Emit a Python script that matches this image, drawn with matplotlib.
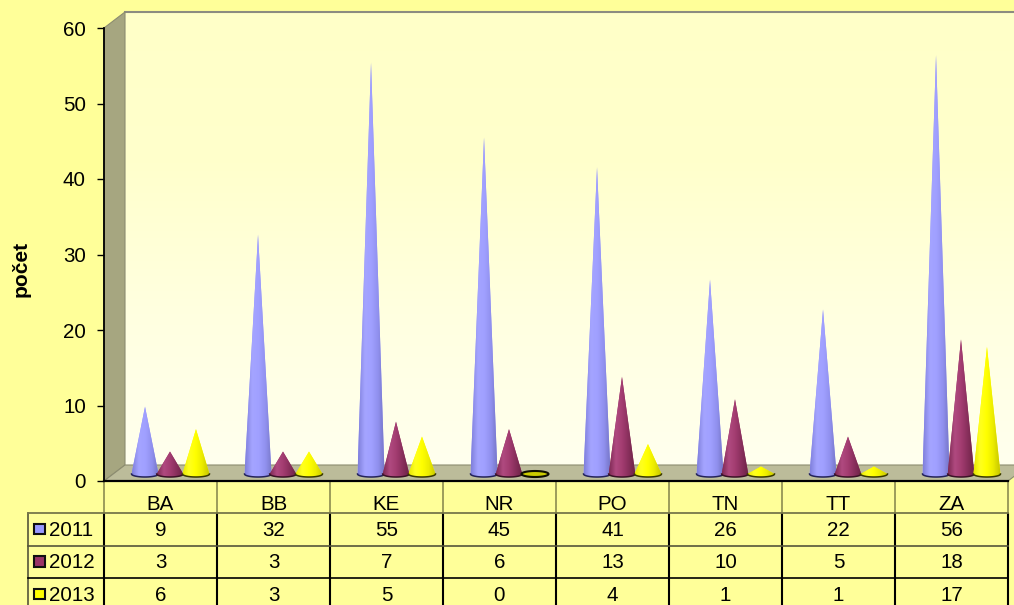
import numpy as np
import matplotlib
matplotlib.use("Agg")
import matplotlib.pyplot as plt
from matplotlib.colors import LinearSegmentedColormap
from matplotlib.patches import Polygon

plt.rcParams["font.family"] = ["Liberation Sans", "DejaVu Sans"]

categories = ["BA", "BB", "KE", "NR", "PO", "TN", "TT", "ZA"]
years = ["2011", "2012", "2013"]
v2011 = [9, 32, 55, 45, 41, 26, 22, 56]
v2012 = [3, 3, 7, 6, 13, 10, 5, 18]
v2013 = [6, 3, 5, 0, 4, 1, 1, 17]
series = [v2011, v2012, v2013]
yticks = [0, 10, 20, 30, 40, 50, 60]

colors = ["#9999FF", "#993366", "#FFFF00"]
grad_stops = [
    ["#8080DC", "#A4A4FF", "#A0A0FF", "#9090EE", "#7474C4"],
    ["#7E2A54", "#B04A80", "#A23C70", "#862E5A", "#6A2244"],
    ["#E4E400", "#FFFF20", "#FFFF00", "#ECEC00", "#C8C800"],
]
edge_colors = ["#23235A", "#3A1226", "#3A3A00"]

W, H = 1014, 605
# pixel layout of the plot box
left, right, bottom, top = 104, 1008, 481, 28
cat_w = (right - left) / len(categories)
unit = (bottom - top) / 60
depth_x = 21 / cat_w
depth_y = 16 / unit
# the cones stand further back, so they come out a little shorter than the axis
cone_scale = 0.99

fig = plt.figure(figsize=(W / 100, H / 100), dpi=100, facecolor="#FFFF99")

# overlay in pixels for the table under the plot
tab = fig.add_axes([0, 0, 1, 1], zorder=1)
tab.set_xlim(0, W)
tab.set_ylim(H, 0)
tab.axis("off")

ax = fig.add_axes([left / W, 1 - bottom / H, (right - left) / W, (bottom - top) / H], zorder=2)
ax.patch.set_alpha(0)
ax.set_xlim(0, len(categories))
ax.set_ylim(0, 60)

# back wall
wall_cmap = LinearSegmentedColormap.from_list("wall", ["#FFFFC8", "#FFFFCC", "#FFFFE0", "#FFFFEE"])
ax.imshow(np.linspace(0, 1, 256).reshape(-1, 1), cmap=wall_cmap, aspect="auto", origin="upper",
          extent=[depth_x, 8 + depth_x, depth_y, 60 + depth_y], zorder=1, clip_on=False)
ax.set_xlim(0, len(categories))
ax.set_ylim(0, 60)
ax.plot([depth_x, 8 + depth_x], [60 + depth_y] * 2, color="#8C8C80", lw=1.5, zorder=2, clip_on=False)

# side wall and floor
ax.add_patch(Polygon([[0, 0], [depth_x, depth_y], [depth_x, 60 + depth_y], [0, 60]], closed=True,
                     facecolor="#A6A680", edgecolor="#8C8C70", lw=0.8, zorder=2, clip_on=False))
ax.add_patch(Polygon([[0, 0], [depth_x, depth_y], [8 + depth_x, depth_y], [8, 0]], closed=True,
                     facecolor="#BCBC9A", edgecolor="#8C8C70", lw=0.8, zorder=2, clip_on=False))

# cones
offsets = [0.363, 0.584, 0.814]
half_w = [13.5 / cat_w, 13.3 / cat_w, 13.5 / cat_w]
base_y = 7 / unit
ell_h = 3 / unit
theta = np.linspace(np.pi, 2 * np.pi, 40)

for s, vals in enumerate(series):
    cmap = LinearSegmentedColormap.from_list(f"c{s}", grad_stops[s])
    for i, v in enumerate(vals):
        cx = i + offsets[s]
        hw = half_w[s]
        low_x = cx + hw * np.cos(theta)
        low_y = base_y + ell_h * np.sin(theta)
        if v == 0:
            t = np.linspace(0, 2 * np.pi, 60)
            ax.fill(cx + hw * np.cos(t), base_y + ell_h * np.sin(t), facecolor="#CCCC00",
                    edgecolor="#101000", lw=1.5, zorder=5 + s)
            continue
        tip = base_y + v * cone_scale
        pts = np.column_stack([np.r_[cx, low_x[::-1]], np.r_[tip, low_y[::-1]]])
        cone = Polygon(pts, closed=True, facecolor=colors[s], edgecolor="none", zorder=4 + s)
        ax.add_patch(cone)
        im = ax.imshow(np.linspace(0, 1, 64).reshape(1, -1), cmap=cmap, aspect="auto",
                       extent=[cx - hw, cx + hw, base_y - ell_h, tip], zorder=4 + s)
        im.set_clip_path(cone)
        ax.plot(low_x, low_y, color=edge_colors[s], lw=1.1, zorder=5 + s)
ax.set_xlim(0, len(categories))
ax.set_ylim(0, 60)

# axes
for name in ["top", "right"]:
    ax.spines[name].set_visible(False)
ax.spines["left"].set_linewidth(1.3)
ax.spines["bottom"].set_linewidth(1.6)
ax.spines["left"].set_zorder(8)
ax.spines["bottom"].set_zorder(8)
ax.set_xticks([])
ax.set_yticks(yticks)
ax.tick_params(axis="y", length=5, width=1, labelsize=14.8, pad=8)
ax.set_axisbelow(False)

fig.text(21 / W, 1 - 269 / H, "počet", rotation=90, ha="center", va="center",
         fontsize=15, fontweight="bold", color="black")

# data table
row_y = [481, 513, 546, 578, 611]
tab_left = 28
xs = [left + cat_w * i for i in range(len(categories) + 1)]

for x in xs:
    tab.plot([x, x], [481, 513], color="#8C8C50", lw=1.2, solid_capstyle="butt")
    tab.plot([x, x], [513, 605], color="black", lw=1.5, solid_capstyle="butt")
tab.plot([tab_left, tab_left], [513, 605], color="#55553A", lw=1.2)
tab.plot([tab_left, right], [513, 513], color="#77774A", lw=1.3)
tab.plot([tab_left, right], [546, 546], color="#55553A", lw=1.2)
tab.plot([tab_left, right], [578, 578], color="black", lw=1.2)

for i, c in enumerate(categories):
    tab.text(left + cat_w * (i + 0.5), 502, c, ha="center", va="center_baseline", fontsize=14.8, color="black")
for r, vals in enumerate(series):
    yc = (row_y[r + 1] + row_y[r + 2]) / 2 - 1
    tab.add_patch(plt.Rectangle((34, yc - 5), 10.5, 10.5, facecolor=colors[r], edgecolor="#101010", lw=1.5))
    tab.text(49, yc, years[r], ha="left", va="center_baseline", fontsize=14.8, color="black")
    for i, v in enumerate(vals):
        tab.text(left + cat_w * (i + 0.5), yc, str(v), ha="center", va="center_baseline", fontsize=14.8, color="black")

fig.savefig("out.png", dpi=100, facecolor=fig.get_facecolor())
